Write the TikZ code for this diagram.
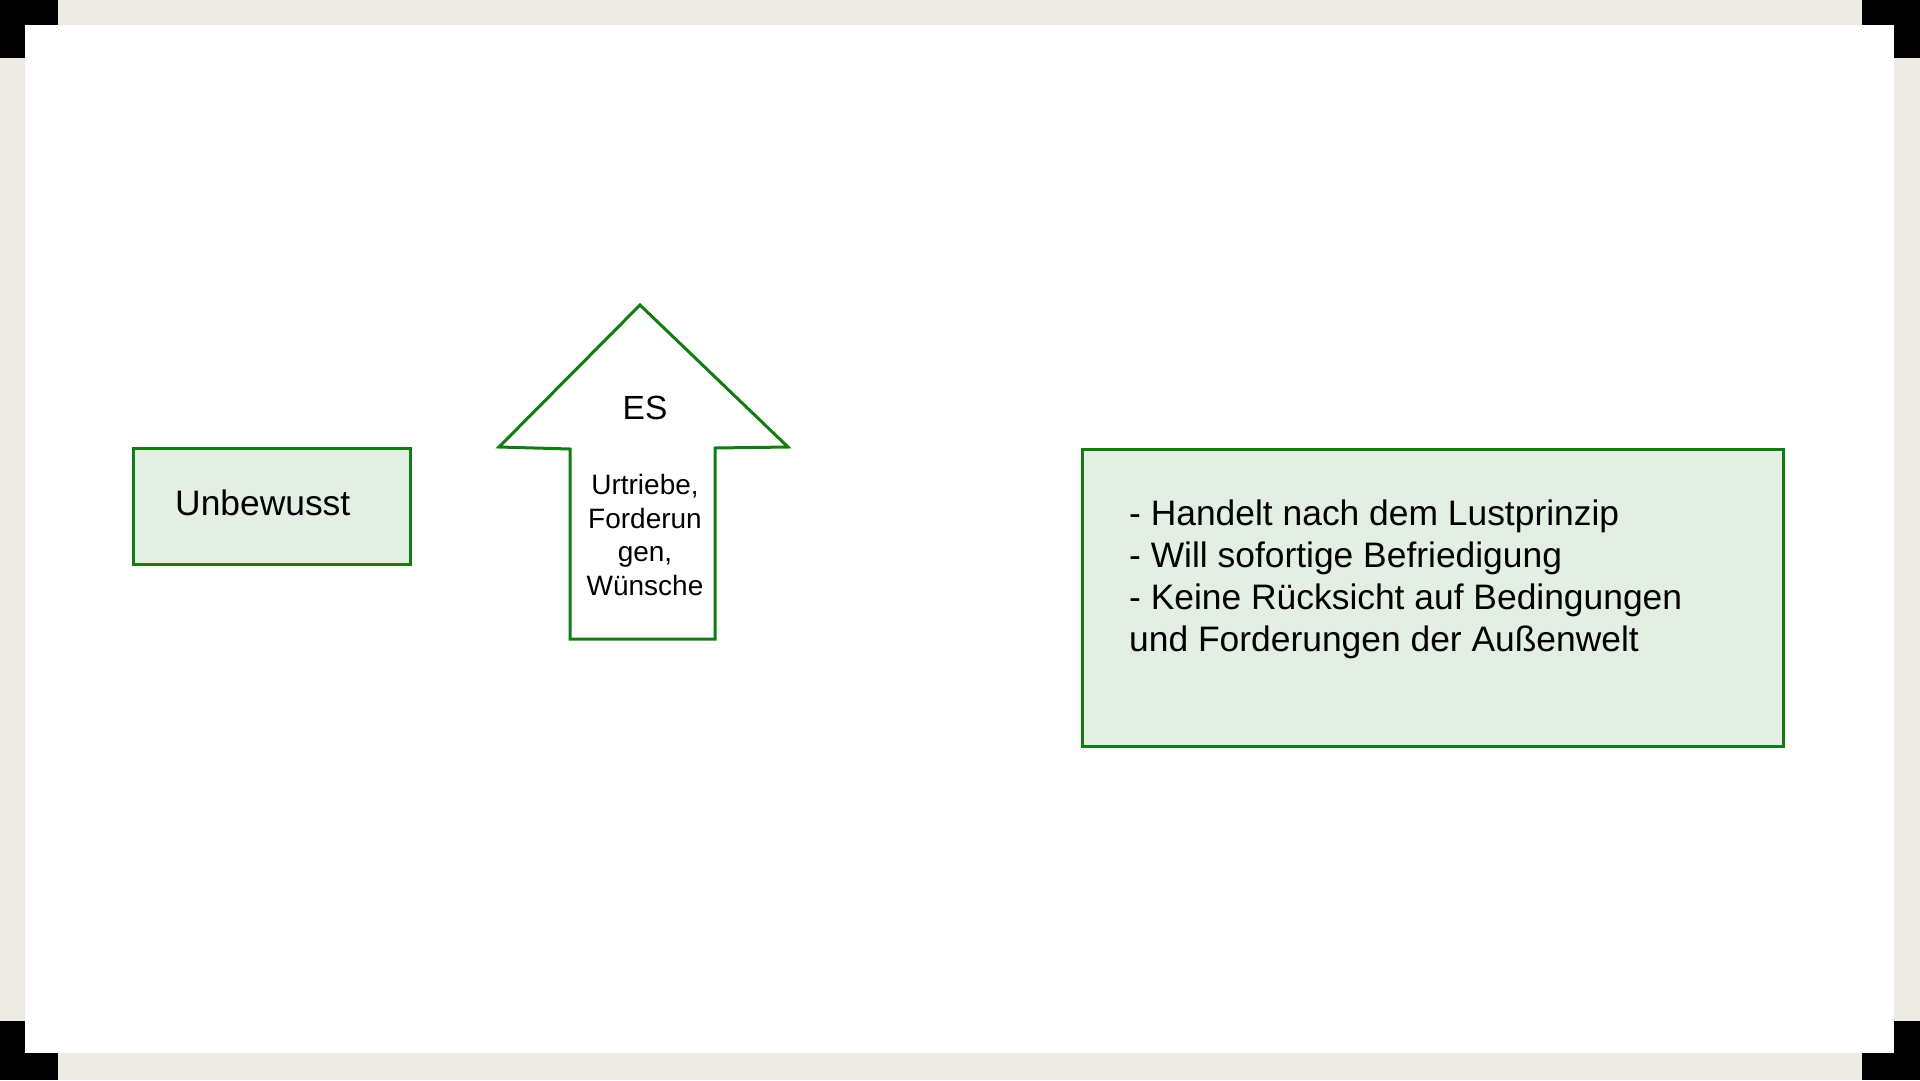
\documentclass[tikz,border=0pt]{standalone}
\usepackage{fontspec}
\setmainfont{Liberation Sans}
\definecolor{frameBeige}{RGB}{237,235,227}
\definecolor{boxGreen}{RGB}{18,124,18}
\definecolor{boxFill}{RGB}{227,239,227}
\tikzset{
  greenbox/.style={draw=boxGreen, line width=3pt, fill=boxFill, rectangle, inner sep=0pt},
  bigtext/.style={inner sep=0pt, font=\fontsize{35.4}{42}\selectfont, text=black},
  estext/.style={inner sep=0pt, font=\fontsize{33.5}{40}\selectfont, text=black},
  smalltext/.style={inner sep=0pt, font=\fontsize{28}{33.5}\selectfont, text=black, align=center},
}
\begin{document}
\begin{tikzpicture}[x=1pt, y=-1pt]
\useasboundingbox (0,0) rectangle (1920,1080);
\fill[white] (0,0) rectangle (1920,1080);
% frame bands
\fill[frameBeige] (58,0) rectangle (1862,25);
\fill[frameBeige] (58,1053) rectangle (1862,1080);
\fill[frameBeige] (0,58) rectangle (25,1021);
\fill[frameBeige] (1894,58) rectangle (1920,1021);
% black corners
\fill[black] (0,0) rectangle (58,25);
\fill[black] (0,0) rectangle (25,58);
\fill[black] (1862,0) rectangle (1920,25);
\fill[black] (1894,0) rectangle (1920,58);
\fill[black] (0,1053) rectangle (58,1080);
\fill[black] (0,1021) rectangle (25,1080);
\fill[black] (1862,1053) rectangle (1920,1080);
\fill[black] (1894,1021) rectangle (1920,1080);

% Unbewusst box
\node[greenbox, minimum width=277pt, minimum height=116pt] (unbbox) at (271.5,506) {};
\node[bigtext, anchor=base west] (unbtext) at (175,515) {Unbewusst};

% ES arrow
\draw[boxGreen, line width=3pt, line join=miter, fill=white]
  (640,305) -- (788,447) -- (715,448) -- (715,639) -- (570,639) -- (570,449) -- (499,447) -- cycle;
\node[estext, anchor=base] (es) at (645,419) {ES};
\node[smalltext, anchor=north] (estrieb) at (645,474) {Urtriebe,\\Forderun\\gen,\\Wünsche};

% big box
\node[greenbox, minimum width=701pt, minimum height=297pt] (bigbox) at (1432.5,597.5) {};
\node[bigtext, anchor=north west, align=left] (bigtext) at (1129,499.5)
  {- Handelt nach dem Lustprinzip\\- Will sofortige Befriedigung\\- Keine Rücksicht auf Bedingungen\\und Forderungen der Außenwelt};
\end{tikzpicture}
\end{document}
